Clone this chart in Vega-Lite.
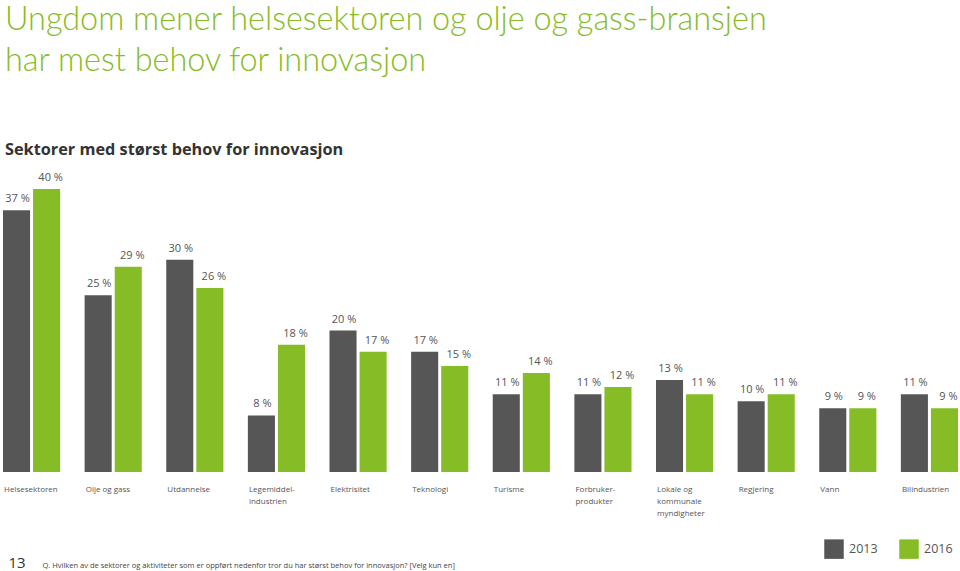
{
  "$schema": "https://vega.github.io/schema/vega-lite/v6.json",
  "width": 955,
  "height": 283,
  "autosize": {"type": "none"},
  "padding": {"left": 3, "top": 189, "right": 2, "bottom": 99},
  "background": "white",
  "config": {"view": {"stroke": null}},
  "title": {
    "text": ["Ungdom mener helsesektoren og olje og gass-bransjen", "har mest behov for innovasjon"],
    "subtitle": "Sektorer med størst behov for innovasjon",
    "anchor": "start",
    "frame": "group",
    "dx": 2,
    "offset": 14,
    "font": "Lato",
    "fontSize": 32.4,
    "fontWeight": 300,
    "color": "#86bc25",
    "lineHeight": 41,
    "subtitleFont": "Open Sans",
    "subtitleFontSize": 16.3,
    "subtitleFontWeight": "bold",
    "subtitleColor": "#333333",
    "subtitlePadding": 64
  },
  "data": {
    "values": [
      {"sektor": "Helsesektoren", "year": "2013", "pct": 37},
      {"sektor": "Helsesektoren", "year": "2016", "pct": 40},
      {"sektor": "Olje og gass", "year": "2013", "pct": 25},
      {"sektor": "Olje og gass", "year": "2016", "pct": 29},
      {"sektor": "Utdannelse", "year": "2013", "pct": 30},
      {"sektor": "Utdannelse", "year": "2016", "pct": 26},
      {"sektor": "Legemiddelindustrien", "year": "2013", "pct": 8},
      {"sektor": "Legemiddelindustrien", "year": "2016", "pct": 18},
      {"sektor": "Elektrisitet", "year": "2013", "pct": 20},
      {"sektor": "Elektrisitet", "year": "2016", "pct": 17},
      {"sektor": "Teknologi", "year": "2013", "pct": 17},
      {"sektor": "Teknologi", "year": "2016", "pct": 15},
      {"sektor": "Turisme", "year": "2013", "pct": 11},
      {"sektor": "Turisme", "year": "2016", "pct": 14},
      {"sektor": "Forbrukerprodukter", "year": "2013", "pct": 11},
      {"sektor": "Forbrukerprodukter", "year": "2016", "pct": 12},
      {"sektor": "Lokale og kommunale myndigheter", "year": "2013", "pct": 13},
      {"sektor": "Lokale og kommunale myndigheter", "year": "2016", "pct": 11},
      {"sektor": "Regjering", "year": "2013", "pct": 10},
      {"sektor": "Regjering", "year": "2016", "pct": 11},
      {"sektor": "Vann", "year": "2013", "pct": 9},
      {"sektor": "Vann", "year": "2016", "pct": 9},
      {"sektor": "Bilindustrien", "year": "2013", "pct": 11},
      {"sektor": "Bilindustrien", "year": "2016", "pct": 9}
    ]
  },
  "encoding": {
    "x": {
      "field": "sektor",
      "type": "nominal",
      "sort": null,
      "scale": {"paddingInner": 0.3, "paddingOuter": 0},
      "axis": {
        "title": "Q. Hvilken av de sektorer og aktiviteter som er oppført nedenfor tror du har størst behov for innovasjon? [Velg kun en]",
        "titleFont": "Open Sans",
        "titleFontSize": 7.5,
        "titleFontWeight": "normal",
        "titleColor": "#444444",
        "titleAnchor": "start",
        "titleAlign": "left",
        "titleBaseline": "alphabetic",
        "titleX": 39,
        "titleY": 95,
        "domain": false,
        "ticks": false,
        "labelAngle": 0,
        "labelAlign": "left",
        "labelBaseline": "top",
        "labelOffset": -27.5,
        "labelPadding": 13,
        "labelFont": "Open Sans",
        "labelFontSize": 8,
        "labelColor": "#555555",
        "labelLineHeight": 12,
        "labelLimit": 0,
        "labelExpr": "datum.value == 'Legemiddelindustrien' ? ['Legemiddel-', 'industrien'] : datum.value == 'Forbrukerprodukter' ? ['Forbruker-', 'produkter'] : datum.value == 'Lokale og kommunale myndigheter' ? ['Lokale og', 'kommunale', 'myndigheter'] : datum.value"
      }
    },
    "xOffset": {"field": "year", "type": "nominal", "scale": {"paddingInner": 0.1, "paddingOuter": 0}},
    "y": {
      "field": "pct",
      "type": "quantitative",
      "scale": {"domain": [0, 40], "nice": false},
      "axis": {
        "title": "13",
        "titleFont": "Open Sans",
        "titleFontSize": 15,
        "titleFontWeight": "normal",
        "titleColor": "#333333",
        "titleAngle": 0,
        "titleAlign": "left",
        "titleBaseline": "alphabetic",
        "titleX": 5,
        "titleY": 378,
        "domain": false,
        "ticks": false,
        "labels": false,
        "grid": false
      }
    }
  },
  "layer": [
    {
      "mark": {"type": "bar"},
      "encoding": {
        "color": {
          "field": "year",
          "type": "nominal",
          "scale": {"domain": ["2013", "2016"], "range": ["#565656", "#86bc25"]},
          "legend": {
            "title": null,
            "orient": "none",
            "direction": "horizontal",
            "legendX": 821,
            "legendY": 350,
            "symbolType": "square",
            "symbolSize": 380,
            "symbolStrokeWidth": 0,
            "symbolOpacity": 1,
            "labelFont": "Open Sans",
            "labelFontSize": 12.5,
            "labelColor": "#555555",
            "labelOffset": 5,
            "columnPadding": 21,
            "padding": 0
          }
        }
      }
    },
    {
      "transform": [{"filter": "datum.year == '2013'"}],
      "mark": {"type": "text", "text": {"expr": "datum.pct + ' %'"}, "baseline": "alphabetic", "dy": -8, "dx": 1, "font": "Open Sans", "fontSize": 11, "color": "#555555"}
    },
    {
      "transform": [{"filter": "datum.year == '2016'"}],
      "mark": {"type": "text", "text": {"expr": "datum.pct + ' %'"}, "baseline": "alphabetic", "dy": -8, "dx": 4, "font": "Open Sans", "fontSize": 11, "color": "#555555"}
    }
  ]
}
